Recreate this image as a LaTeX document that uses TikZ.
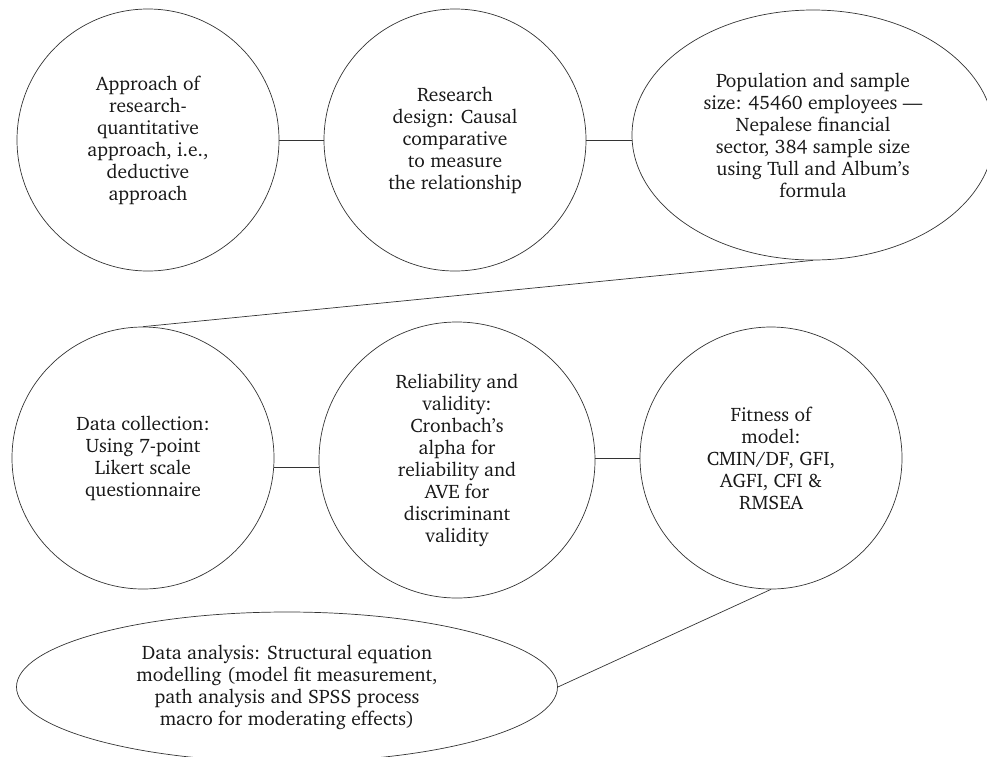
\documentclass[tikz,border=0pt]{standalone}
\usepackage[T1]{fontenc}
\usepackage{charter}
\usetikzlibrary{shapes.geometric}
\begin{document}
\begin{tikzpicture}[x=1pt,y=-1pt,
  every node/.style={font=\fontsize{19.5}{22}\selectfont, text=black!90, align=center, inner sep=0pt},
  bub/.style={circle, draw=black!80, line width=0.7pt, minimum size=#1},
  oval/.style={ellipse, draw=black!80, line width=0.7pt},
  link/.style={draw=black!80, line width=0.7pt}]
\useasboundingbox (0,0) rectangle (987,756);
\clip (0,0) rectangle (987,756);
\node[bub=262pt] (c1) at (148,140) {Approach of\\research-\\quantitative\\approach, i.e.,\\deductive\\approach};
\node[bub=262pt] (c2) at (455,140) {Research\\design: Causal\\comparative\\to measure\\the relationship};
\node[oval, minimum width=362pt, minimum height=250pt] (e3) at (813,135) {Population and sample\\size: 45460 employees ---\\Nepalese financial\\sector, 384 sample size\\using Tull and Album's\\formula};
\node[bub=262pt] (c4) at (143,458) {Data collection:\\Using 7-point\\Likert scale\\questionnaire};
\node[bub=276pt] (c5) at (457,460) {Reliability and\\validity:\\Cronbach's\\alpha for\\reliability and\\AVE for\\discriminant\\validity};
\node[bub=262pt] (c6) at (771,458) {Fitness of\\model:\\CMIN/DF, GFI,\\AGFI, CFI \&\\RMSEA};
\node[oval, minimum width=541pt, minimum height=150pt] (e7) at (287,687) {Data analysis: Structural equation\\modelling (model fit measurement,\\path analysis and SPSS process\\macro for moderating effects)};
\draw[link] (c1.east) -- (c2.west);
\draw[link] (c2.east) -- (c2.east -| e3.west);
\draw[link] (e3.south) -- (c4.north);
\draw[link] (c4.-4) -- (c4.-4 -| c5.west);
\draw[link] (c6.west -| c5.east) -- (c6.west);
\draw[link] (c6.south) -- (e7.east);
\end{tikzpicture}
\end{document}
